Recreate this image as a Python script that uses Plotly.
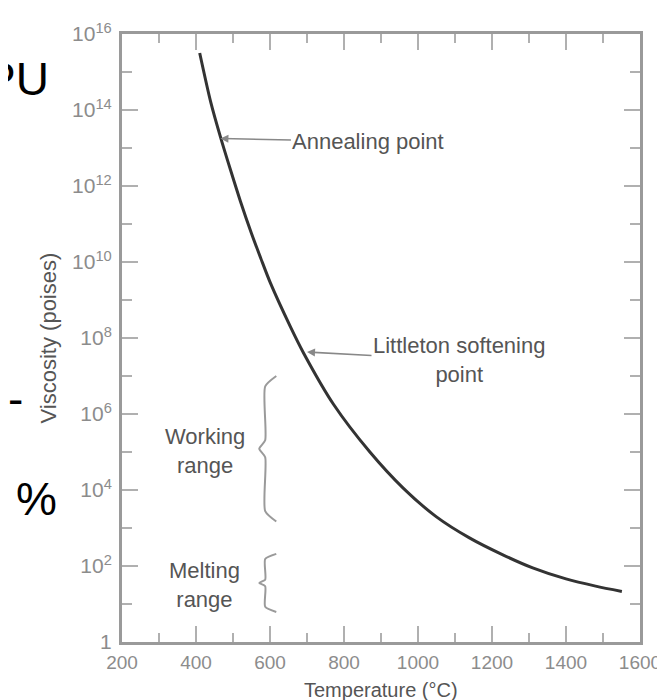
import plotly.graph_objects as go

# ---- data ----
temp_c = [410, 440, 467, 494, 520, 550, 575, 601, 655, 691, 772, 870,
          960, 1049, 1139, 1228, 1310, 1400, 1480, 1551]
log_viscosity = [15.5, 14.2, 13.26, 12.4, 11.6, 10.75, 10.1, 9.45, 8.3, 7.6,
                 6.25, 5.0, 4.05, 3.3, 2.74, 2.3, 1.95, 1.66, 1.47, 1.33]
viscosity_poise = [10 ** v for v in log_viscosity]

x_major = [200, 400, 600, 800, 1000, 1200, 1400, 1600]
x_minor = [300, 500, 700, 900, 1100, 1300, 1500]
y_major = [1, 1e2, 1e4, 1e6, 1e8, 1e10, 1e12, 1e14, 1e16]
y_major_text = ["1", "10<sup>2</sup>", "10<sup>4</sup>", "10<sup>6</sup>",
                "10<sup>8</sup>", "10<sup>10</sup>", "10<sup>12</sup>",
                "10<sup>14</sup>", "10<sup>16</sup>"]
y_minor = [10, 1e3, 1e5, 1e7, 1e9, 1e11, 1e13, 1e15]

annealing_point = (466, 13.25)      # (°C, log10 poise)
littleton_point = (700, 7.63)
working_range = (3.22, 6.95)        # log10 poise
melting_range = (0.84, 2.27)

FONT = "Liberation Sans, Arial, sans-serif"
TXT = "#555555"
TICK = "#8c8c8c"
FS = 22

fig = go.Figure()

fig.add_trace(go.Scatter(x=temp_c, y=viscosity_poise, mode="lines",
                         line=dict(color="#333333", width=3, shape="spline", smoothing=0.8),
                         hoverinfo="skip", showlegend=False))


def brace(lo, hi, xpos=587, cusp=571, hook=617):
    mid = (lo + hi) / 2
    d = (hi - lo) * 0.06
    pts = [(hook, hi + 0.05), (xpos, hi - d), (xpos, mid + d), (cusp, mid),
           (xpos, mid - d), (xpos, lo + d), (hook, lo - 0.05)]
    xs = [p[0] for p in pts]
    ys = [10 ** p[1] for p in pts]
    fig.add_trace(go.Scatter(x=xs, y=ys, mode="lines",
                             line=dict(color="#9a9a9a", width=2, shape="spline", smoothing=0.6),
                             hoverinfo="skip", showlegend=False))


brace(*working_range)
brace(*melting_range)

ann = []
ann.append(dict(x=annealing_point[0], y=annealing_point[1], xref="x", yref="y",
                text="Annealing point", showarrow=True, ax=148, ay=3,
                arrowhead=2, arrowsize=1, arrowwidth=1.6, arrowcolor="#888888",
                font=dict(family=FONT, size=FS, color=TXT)))
ann.append(dict(x=littleton_point[0], y=littleton_point[1], xref="x", yref="y",
                text="Littleton softening<br>point", showarrow=True, ax=152, ay=8,
                arrowhead=2, arrowsize=1, arrowwidth=1.6, arrowcolor="#888888",
                font=dict(family=FONT, size=FS, color=TXT)))
ann.append(dict(x=424, y=(working_range[0] + working_range[1]) / 2 - 0.05,
                xref="x", yref="y", text="Working<br>range", showarrow=False,
                font=dict(family=FONT, size=FS, color=TXT)))
ann.append(dict(x=424, y=1.49, xref="x", yref="y", text="Melting<br>range",
                showarrow=False, font=dict(family=FONT, size=FS, color=TXT)))
# axis titles
ann.append(dict(x=-0.142, y=0.5, xref="paper", yref="paper",
                text="Viscosity (poises)", textangle=-90, showarrow=False,
                xanchor="center", yanchor="middle",
                font=dict(family=FONT, size=FS, color=TXT)))
ann.append(dict(x=0.5, y=-0.079, xref="paper", yref="paper",
                text="Temperature (°C)", showarrow=False,
                xanchor="center", yanchor="middle",
                font=dict(family=FONT, size=20, color=TXT)))
# slide fragments at the left edge
ann.append(dict(x=-0.138, y=0.926, xref="paper", yref="paper", text="PU",
                showarrow=False, xanchor="right", yanchor="middle",
                font=dict(family=FONT, size=46, color="black")))
ann.append(dict(x=-0.208, y=0.235, xref="paper", yref="paper", text="%",
                showarrow=False, xanchor="left", yanchor="middle",
                font=dict(family=FONT, size=46, color="black")))
ann.append(dict(x=-0.205, y=0.40, xref="paper", yref="paper", text="-",
                showarrow=False, xanchor="right", yanchor="middle",
                xshift=9,
                font=dict(family=FONT, size=46, color="black")))

fig.update_layout(
    width=665, height=700,
    margin=dict(l=114, r=30, t=22, b=66),
    paper_bgcolor="white", plot_bgcolor="white",
    annotations=ann,
    xaxis=dict(range=[200, 1600], showgrid=False, zeroline=False,
               showline=True, linecolor="#9a9a9a", linewidth=3, mirror="ticks",
               ticks="inside", ticklen=16, tickwidth=2, tickcolor="#b0b0b0",
               tickvals=x_major, ticktext=[str(v) for v in x_major],
               ticklabelstandoff=1,
               tickfont=dict(family=FONT, size=19, color=TICK),
               minor=dict(tickvals=x_minor, ticks="inside", ticklen=9,
                          tickwidth=2, tickcolor="#b0b0b0")),
    yaxis=dict(type="log", range=[0, 16], showgrid=False, zeroline=False,
               showline=True, linecolor="#9a9a9a", linewidth=3, mirror="ticks",
               ticks="inside", ticklen=16, tickwidth=2, tickcolor="#b0b0b0",
               tickvals=y_major, ticktext=y_major_text,
               ticklabelstandoff=3,
               tickfont=dict(family=FONT, size=21, color=TICK),
               minor=dict(tickvals=y_minor, ticks="inside", ticklen=10,
                          tickwidth=2, tickcolor="#b0b0b0")),
)

fig.write_html("out.html")
